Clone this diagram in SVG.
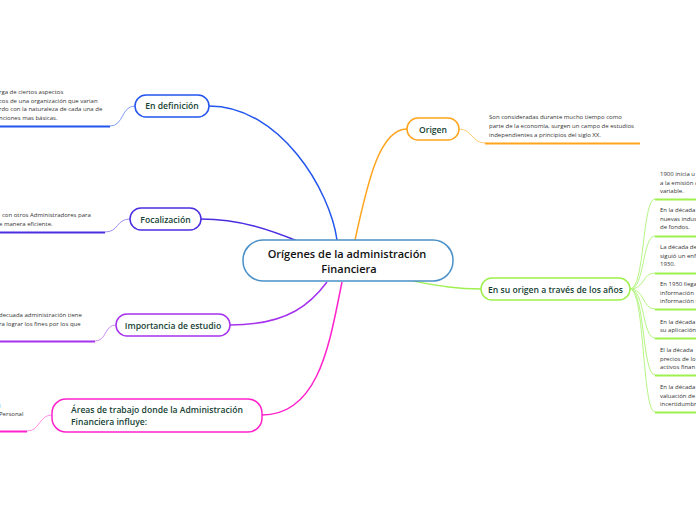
<svg xmlns="http://www.w3.org/2000/svg" width="696" height="520" viewBox="0 0 696 520">
<style>
.node{fill:#fff;stroke-width:1.5}
.lbl{font-family:"Open Sans","Noto Sans",sans-serif;font-weight:600;font-size:8.6px;fill:#163f33}
.ctr{font-family:"Open Sans","Noto Sans",sans-serif;font-weight:600;font-size:11px;fill:#111;text-anchor:middle}
.sub{font-family:"Open Sans","Noto Sans",sans-serif;font-size:6px;fill:#333}
.c{fill:none;stroke-width:1.5}
.u{fill:none;stroke-width:2}
.t{fill:none;stroke-width:1}
</style>
<rect width="696" height="520" fill="#fff"/>
<g id="connectors">
<path class="c" stroke="#2255ee" d="M209,106 C280,106 330,190 337,240"/>
<path class="c" stroke="#4a2fe0" d="M201,219 C240,219 270,230 300,242"/>
<path class="c" stroke="#ffa41c" d="M355,240 C368,180 380,129 407,129"/>
<path class="c" stroke="#9ef04e" d="M413,281 C440,286 455,289 481,289"/>
<path class="c" stroke="#a632ee" d="M327,282 C312,302 290,325 230,325"/>
<path class="c" stroke="#ff22cc" d="M342,282 C330,340 320,415 262,415"/>
<path class="t" stroke="#7f9ff7" d="M135,106 C121,106 124,126 110,126"/>
<path class="u" stroke="#2255ee" d="M110,126.5 H0"/>
<path class="t" stroke="#9c8ff0" d="M130,219 C116,219 119,232 105,232"/>
<path class="u" stroke="#4a2fe0" d="M105,232.5 H0"/>
<path class="t" stroke="#cf90f5" d="M116,325 C104,325 107,341 95,341"/>
<path class="u" stroke="#a632ee" d="M95,341.5 H0"/>
<path class="t" stroke="#ff90e6" d="M52,415 C39,415 40,431 27,431"/>
<path class="u" stroke="#ff22cc" d="M27,431.5 H0"/>
<path class="t" stroke="#ffc97a" d="M459,129 C472,129 472,143 485,143"/>
<path class="u" stroke="#ffa41c" d="M485,143.5 H640"/>
<g class="t" stroke="#b6f585">
<path d="M630,289 C645,289 642,199 655,199"/>
<path d="M630,289 C645,289 642,236 655,236"/>
<path d="M630,289 C645,289 642,273 655,273"/>
<path d="M630,289 C645,289 642,309 655,309"/>
<path d="M630,289 C645,289 642,338 655,338"/>
<path d="M630,289 C645,289 642,375 655,375"/>
<path d="M630,289 C645,289 642,412 655,412"/>
</g>
<g class="u" stroke="#9ef04e">
<path d="M655,199.5 H696"/><path d="M655,236.5 H696"/><path d="M655,273.5 H696"/><path d="M655,309.5 H696"/><path d="M655,338.5 H696"/><path d="M655,375.5 H696"/><path d="M655,412.5 H696"/>
</g>
</g>
<g id="center">
<rect class="node" x="243" y="240" width="210" height="41" rx="20" stroke="#4a90c8"/>
<text class="ctr" x="347" y="258">Orígenes de la administración</text>
<text class="ctr" x="349" y="273">Financiera</text>
</g>
<g id="definicion">
<rect class="node" x="135" y="95" width="74" height="22" rx="11" stroke="#2255ee"/>
<text class="lbl" x="172" y="109" text-anchor="middle">En definición</text>
<text class="sub" x="-1" y="94">rga de ciertos aspectos</text>
<text class="sub" x="-1" y="102.5">cos de una organización  que varian</text>
<text class="sub" x="-1" y="111">rdo con la naturaleza de cada una de</text>
<text class="sub" x="-1" y="119.5">nciones mas básicas.</text>
</g>
<g id="focalizacion">
<rect class="node" x="130" y="208" width="71" height="22" rx="11" stroke="#4a2fe0"/>
<text class="lbl" x="165.5" y="222.5" text-anchor="middle">Focalización</text>
<text class="sub" x="2" y="217">con otros Administradores para</text>
<text class="sub" x="-1" y="225.5">e manera eficiente.</text>
</g>
<g id="importancia">
<rect class="node" x="116" y="314" width="114" height="22" rx="11" stroke="#a632ee"/>
<text class="lbl" x="173" y="328.5" text-anchor="middle">Importancia de estudio</text>
<text class="sub" x="-1" y="317">decuada administración tiene</text>
<text class="sub" x="-1" y="325.5">ra lograr los fines por los que</text>
</g>
<g id="areas">
<rect class="node" x="52" y="399" width="210" height="33" rx="14" stroke="#ff22cc"/>
<text class="lbl" x="71" y="413">Áreas de trabajo donde la Administración</text>
<text class="lbl" x="71" y="425">Financiera influye:</text>
<text class="sub" x="-1" y="408">l</text>
<text class="sub" x="-1" y="416">Personal</text>
</g>
<g id="origen">
<rect class="node" x="407" y="118" width="52" height="22" rx="11" stroke="#ffa41c"/>
<text class="lbl" x="433" y="132.5" text-anchor="middle">Origen</text>
<text class="sub" x="489" y="119">Son consideradas durante mucho tiempo como</text>
<text class="sub" x="489" y="128">parte de la economía, surgen un campo de estudios</text>
<text class="sub" x="489" y="137">independientes a principios del siglo XX.</text>
</g>
<g id="anios">
<rect class="node" x="481" y="278" width="149" height="22" rx="11" stroke="#9ef04e"/>
<text class="lbl" x="555.5" y="292.5" text-anchor="middle">En su origen a través de los años</text>
<text class="sub" x="660" y="176">1900 inicia u</text>
<text class="sub" x="660" y="184.5">a la emisión d</text>
<text class="sub" x="660" y="193">variable.</text>
<text class="sub" x="660" y="212">En la década</text>
<text class="sub" x="660" y="220.5">nuevas indus</text>
<text class="sub" x="660" y="229">de fondos.</text>
<text class="sub" x="660" y="249">La década de</text>
<text class="sub" x="660" y="257.5">siguió un enf</text>
<text class="sub" x="660" y="266">1930.</text>
<text class="sub" x="660" y="286">En 1950 llega</text>
<text class="sub" x="660" y="294.5">información</text>
<text class="sub" x="660" y="303">información s</text>
<text class="sub" x="660" y="323.5">En la década</text>
<text class="sub" x="660" y="332">su aplicación</text>
<text class="sub" x="660" y="352">El la década</text>
<text class="sub" x="660" y="360.5">precios de lo</text>
<text class="sub" x="660" y="369">activos finan</text>
<text class="sub" x="660" y="389">En la década</text>
<text class="sub" x="660" y="397.5">valuación de</text>
<text class="sub" x="660" y="406">incertidumbr</text>
</g>
</svg>
